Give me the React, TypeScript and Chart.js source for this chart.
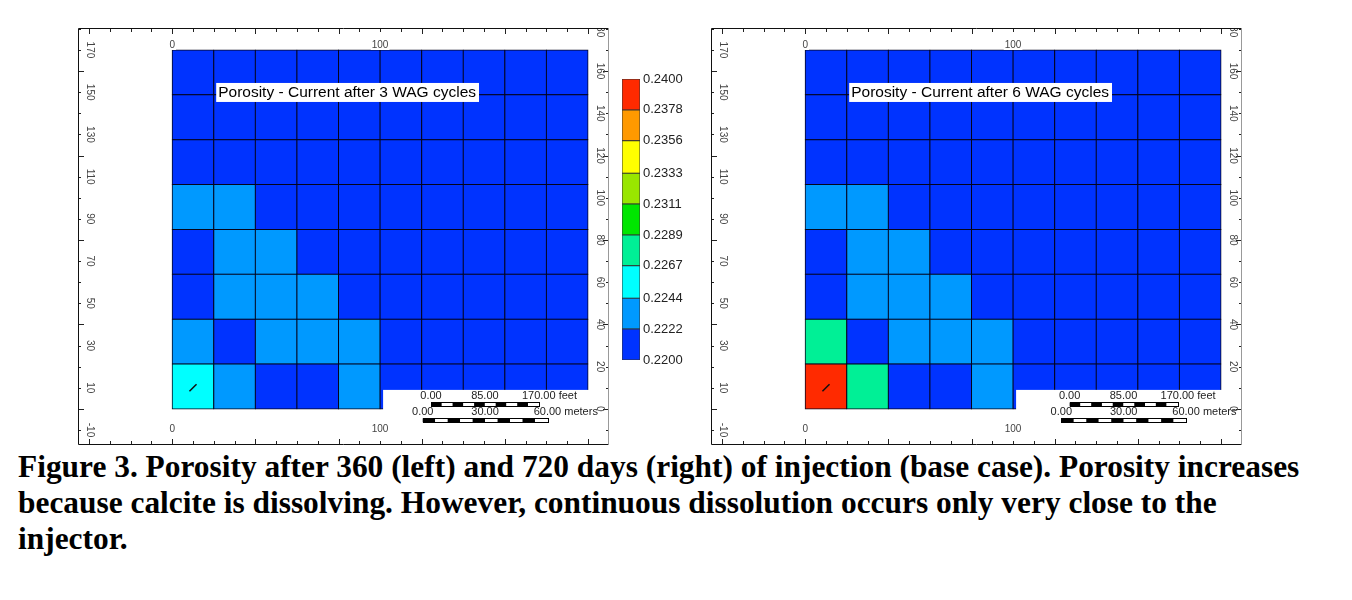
import React, { useEffect, useRef } from "react";
import { Chart, registerables } from "chart.js";

Chart.register(...registerables);

// Grid block centres along X (m) and layer edges along Y (m)
const COLUMN_CENTERS = [10, 30, 50, 70, 90, 110, 130, 150, 170, 190];
const COLUMN_EDGES = [0, 20, 40, 60, 80, 100, 120, 140, 160, 180, 200];
const ROW_EDGES = [0, 21.25, 42.5, 63.75, 85, 106.25, 127.5, 148.75, 170];

// Porosity per grid row, bottom row first: after 3 WAG cycles (360 days)
const POROSITY_3_WAG = [
  [0.2255, 0.2233, 0.2211, 0.2211, 0.2233, 0.2211, 0.2211, 0.2211, 0.2211, 0.2211],
  [0.2233, 0.2211, 0.2233, 0.2233, 0.2233, 0.2211, 0.2211, 0.2211, 0.2211, 0.2211],
  [0.2211, 0.2233, 0.2233, 0.2233, 0.2211, 0.2211, 0.2211, 0.2211, 0.2211, 0.2211],
  [0.2211, 0.2233, 0.2233, 0.2211, 0.2211, 0.2211, 0.2211, 0.2211, 0.2211, 0.2211],
  [0.2233, 0.2233, 0.2211, 0.2211, 0.2211, 0.2211, 0.2211, 0.2211, 0.2211, 0.2211],
  [0.2211, 0.2211, 0.2211, 0.2211, 0.2211, 0.2211, 0.2211, 0.2211, 0.2211, 0.2211],
  [0.2211, 0.2211, 0.2211, 0.2211, 0.2211, 0.2211, 0.2211, 0.2211, 0.2211, 0.2211],
  [0.2211, 0.2211, 0.2211, 0.2211, 0.2211, 0.2211, 0.2211, 0.2211, 0.2211, 0.2211],
];

// Porosity per grid row, bottom row first: after 6 WAG cycles (720 days)
const POROSITY_6_WAG = [
  [0.2390, 0.2278, 0.2211, 0.2211, 0.2233, 0.2211, 0.2211, 0.2211, 0.2211, 0.2211],
  [0.2278, 0.2211, 0.2233, 0.2233, 0.2233, 0.2211, 0.2211, 0.2211, 0.2211, 0.2211],
  [0.2211, 0.2233, 0.2233, 0.2233, 0.2211, 0.2211, 0.2211, 0.2211, 0.2211, 0.2211],
  [0.2211, 0.2233, 0.2233, 0.2211, 0.2211, 0.2211, 0.2211, 0.2211, 0.2211, 0.2211],
  [0.2233, 0.2233, 0.2211, 0.2211, 0.2211, 0.2211, 0.2211, 0.2211, 0.2211, 0.2211],
  [0.2211, 0.2211, 0.2211, 0.2211, 0.2211, 0.2211, 0.2211, 0.2211, 0.2211, 0.2211],
  [0.2211, 0.2211, 0.2211, 0.2211, 0.2211, 0.2211, 0.2211, 0.2211, 0.2211, 0.2211],
  [0.2211, 0.2211, 0.2211, 0.2211, 0.2211, 0.2211, 0.2211, 0.2211, 0.2211, 0.2211],
];

// Injector well location (m)
const INJECTOR = [{ x: 10, y: 10 }];

// Colour scale levels and the fill of each band between them
const LEVELS = [0.22, 0.2222, 0.2244, 0.2267, 0.2289, 0.2311, 0.2333, 0.2356, 0.2378, 0.24];
const BAND_COLORS = [
  "#0033FF", "#0099FF", "#00FFFF", "#00F096", "#00E600",
  "#99E600", "#FFFF00", "#FF9900", "#FF2A00",
];

// Frame tick values (m)
const FRAME_TICKS_X = [-40, -30, -20, -10, 0, 10, 20, 30, 40, 50, 60, 70, 80, 90, 100, 110, 120, 130, 140, 150, 160, 170, 180, 190, 200, 210];
const FRAME_TICKS_Y = [-10, 0, 10, 20, 30, 40, 50, 60, 70, 80, 90, 100, 110, 120, 130, 140, 150, 160, 170, 180];
const X_LABELS = [0, 100];
const LEFT_LABELS = [-10, 10, 30, 50, 70, 90, 110, 130, 150, 170];
const RIGHT_LABELS = [0, 20, 40, 60, 80, 100, 120, 140, 160, 180];

// Scale bar marks
const FEET_MARKS = [0, 85, 170];
const METER_MARKS = [0, 30, 60];
const FEET_TO_M = 0.3048;

const SANS = "'Liberation Sans', Arial, sans-serif";

function colourFor(v: number): string {
  for (let i = 0; i < BAND_COLORS.length; i++) {
    if (v < LEVELS[i + 1]) return BAND_COLORS[i];
  }
  return BAND_COLORS[BAND_COLORS.length - 1];
}

function drawScaleBar(ctx: CanvasRenderingContext2D, x0: number, x1: number, yc: number, marks: number[], unit: string) {
  const segs = 10;
  const h = 4;
  const w = (x1 - x0) / segs;
  for (let i = 0; i < segs; i++) {
    ctx.fillStyle = i % 2 === 0 ? "#000" : "#fff";
    ctx.fillRect(x0 + i * w, yc - h / 2, w, h);
  }
  ctx.strokeStyle = "#000";
  ctx.lineWidth = 1;
  ctx.strokeRect(Math.round(x0) + 0.5, Math.round(yc - h / 2) + 0.5, Math.round(x1 - x0), h);
  ctx.fillStyle = "#222";
  ctx.font = `11px ${SANS}`;
  ctx.textBaseline = "middle";
  marks.forEach((m, i) => {
    const px = x0 + ((x1 - x0) * i) / (marks.length - 1);
    const txt = m.toFixed(2);
    const tw = ctx.measureText(txt).width;
    ctx.textAlign = "left";
    ctx.fillText(i === marks.length - 1 ? `${txt} ${unit}` : txt, px - tw / 2, yc - 8.5);
  });
}

function makeFramePlugin(title: string, barShift: number) {
  return {
    id: "sectionFrame",
    afterDatasetsDraw(chart: any) {
      const { ctx, chartArea: a } = chart;
      const xs = chart.scales.x;
      const ys = chart.scales.y;
      ctx.save();

      // blank corner holding the scale bars
      const bx = xs.getPixelForValue(100) + 3;
      const by = ys.getPixelForValue(9);
      ctx.fillStyle = "#fff";
      ctx.fillRect(bx, by, xs.getPixelForValue(200) + 1 - bx, ys.getPixelForValue(0) + 2 - by);

      const feetStart = 124.5 + barShift;
      const meterStart = 120.5 + barShift;
      drawScaleBar(
        ctx,
        xs.getPixelForValue(feetStart),
        xs.getPixelForValue(feetStart + FEET_MARKS[FEET_MARKS.length - 1] * FEET_TO_M),
        ys.getPixelForValue(2.1),
        FEET_MARKS,
        "feet"
      );
      drawScaleBar(
        ctx,
        xs.getPixelForValue(meterStart),
        xs.getPixelForValue(meterStart + METER_MARKS[METER_MARKS.length - 1]),
        ys.getPixelForValue(-5.4),
        METER_MARKS,
        "meters"
      );

      // title box
      ctx.font = `15.5px ${SANS}`;
      const tx = xs.getPixelForValue(0) + 44;
      const ty = ys.getPixelForValue(170) + 33;
      const tw = ctx.measureText(title).width;
      ctx.fillStyle = "#fff";
      ctx.fillRect(tx, ty, tw + 5, 19);
      ctx.fillStyle = "#000";
      ctx.textAlign = "left";
      ctx.textBaseline = "middle";
      ctx.fillText(title, tx + 2, ty + 10);

      // frame ticks
      ctx.strokeStyle = "#222";
      ctx.lineWidth = 1;
      ctx.beginPath();
      FRAME_TICKS_X.forEach((v) => {
        const px = Math.round(xs.getPixelForValue(v)) + 0.5;
        const len = v % 40 === 0 ? 6 : 4;
        ctx.moveTo(px, a.top);
        ctx.lineTo(px, a.top + len);
        ctx.moveTo(px, a.bottom);
        ctx.lineTo(px, a.bottom - len);
      });
      FRAME_TICKS_Y.forEach((v) => {
        const py = Math.round(ys.getPixelForValue(v)) + 0.5;
        const len = v % 40 === 0 ? 6 : 3;
        ctx.moveTo(a.left, py);
        ctx.lineTo(a.left + len, py);
        ctx.moveTo(a.right, py);
        ctx.lineTo(a.right - len, py);
      });
      ctx.stroke();

      // axis labels
      ctx.font = `10px ${SANS}`;
      ctx.textAlign = "center";
      ctx.textBaseline = "middle";
      X_LABELS.forEach((v) => {
        const px = xs.getPixelForValue(v);
        const w = ctx.measureText(String(v)).width;
        ctx.fillStyle = "#fff";
        ctx.fillRect(px - w / 2 - 1, a.top + 11, w + 2, 11);
        ctx.fillStyle = "#444";
        ctx.fillText(String(v), px, a.top + 17);
        ctx.fillText(String(v), px, a.bottom - 16);
      });
      const rotated = (txt: string, px: number, py: number) => {
        ctx.save();
        ctx.translate(px, py);
        ctx.rotate(Math.PI / 2);
        ctx.fillText(txt, 0, 0);
        ctx.restore();
      };
      ctx.fillStyle = "#444";
      LEFT_LABELS.forEach((v) => rotated(String(v), a.left + 12, ys.getPixelForValue(v)));
      ctx.save();
      ctx.beginPath();
      ctx.rect(a.left, a.top, a.right - a.left, a.bottom - a.top);
      ctx.clip();
      RIGHT_LABELS.forEach((v) => rotated(String(v), a.right - 9, ys.getPixelForValue(v)));
      ctx.restore();

      // outer frame
      ctx.lineWidth = 1;
      ctx.strokeStyle = "#111";
      ctx.beginPath();
      ctx.moveTo(a.left + 0.5, a.bottom - 0.5);
      ctx.lineTo(a.left + 0.5, a.top + 0.5);
      ctx.lineTo(a.right - 0.5, a.top + 0.5);
      ctx.moveTo(a.left + 0.5, a.bottom - 0.5);
      ctx.lineTo(a.right - 0.5, a.bottom - 0.5);
      ctx.stroke();
      ctx.strokeStyle = "#999";
      ctx.beginPath();
      ctx.moveTo(a.right - 0.5, a.top + 0.5);
      ctx.lineTo(a.right - 0.5, a.bottom - 0.5);
      ctx.stroke();

      ctx.restore();
    },
  };
}

function GridPanel(props: { rows: number[][]; title: string; left: number; barShift: number }) {
  const ref = useRef<HTMLCanvasElement | null>(null);
  useEffect(() => {
    if (!ref.current) return;
    const cellSets = props.rows.map((row, r) => ({
      type: "bar" as const,
      data: COLUMN_CENTERS.map((x) => ({ x, y: [ROW_EDGES[r], ROW_EDGES[r + 1]] })),
      backgroundColor: row.map(colourFor),
      borderColor: "#05051c",
      borderWidth: 1,
      borderSkipped: false as const,
      barPercentage: 1,
      categoryPercentage: 1,
      grouped: false,
      inflateAmount: 0.5,
      order: 1,
    }));
    const chart = new Chart(ref.current, {
      type: "bar",
      data: {
        datasets: [
          ...cellSets,
          {
            type: "scatter",
            data: INJECTOR,
            pointStyle: "line",
            rotation: -45,
            radius: 5,
            borderColor: "#111",
            borderWidth: 1.5,
            order: 0,
          } as any,
        ],
      } as any,
      options: {
        animation: false,
        responsive: false,
        events: [],
        layout: { padding: 0, autoPadding: false },
        plugins: {
          legend: { display: false },
          tooltip: { enabled: false },
        },
        scales: {
          x: {
            type: "linear",
            min: -45.3,
            max: 210.1,
            offset: false,
            display: false,
            afterBuildTicks: (s: any) => {
              s.ticks = COLUMN_EDGES.map((value) => ({ value }));
            },
          },
          y: {
            type: "linear",
            min: -17.1,
            max: 180.4,
            display: false,
          },
        },
      } as any,
      plugins: [makeFramePlugin(props.title, props.barShift)],
    });
    return () => chart.destroy();
  }, []);
  return (
    <canvas
      ref={ref}
      width={531}
      height={417}
      style={{ position: "absolute", left: props.left, top: 28, display: "block" }}
    />
  );
}

function ColourBar() {
  const ref = useRef<HTMLCanvasElement | null>(null);
  useEffect(() => {
    if (!ref.current) return;
    const chart = new Chart(ref.current, {
      type: "bar",
      data: {
        labels: ["Porosity"],
        datasets: BAND_COLORS.map((c, i) => ({
          data: [[LEVELS[i], LEVELS[i + 1]]],
          backgroundColor: c,
          borderColor: "#333",
          borderWidth: 1,
          borderSkipped: false,
          barPercentage: 1,
          categoryPercentage: 1,
          grouped: false,
          inflateAmount: 0.5,
        })),
      } as any,
      options: {
        animation: false,
        responsive: false,
        events: [],
        layout: { padding: { left: 2, top: 19, bottom: 20, right: 0 }, autoPadding: false },
        plugins: { legend: { display: false }, tooltip: { enabled: false } },
        scales: {
          x: { display: false },
          y: {
            type: "linear",
            position: "right",
            min: LEVELS[0],
            max: LEVELS[LEVELS.length - 1],
            afterBuildTicks: (s: any) => {
              s.ticks = LEVELS.map((value) => ({ value }));
            },
            afterFit: (s: any) => {
              s.width = 50;
            },
            grid: { display: false, drawTicks: false },
            border: { display: false },
            ticks: {
              autoSkip: false,
              padding: 3,
              color: "#222",
              font: { family: SANS, size: 13 },
              callback: (v: any) => Number(v).toFixed(4),
            },
          },
        },
      } as any,
    });
    return () => chart.destroy();
  }, []);
  return (
    <canvas
      ref={ref}
      width={70}
      height={320}
      style={{ position: "absolute", left: 620, top: 60, display: "block" }}
    />
  );
}

export default function App() {
  return (
    <div
      style={{
        position: "fixed",
        left: 0,
        top: 0,
        width: 1352,
        height: 600,
        background: "#fff",
        overflow: "hidden",
      }}
    >
      <GridPanel rows={POROSITY_3_WAG} title="Porosity - Current after 3 WAG cycles" left={78} barShift={0} />
      <ColourBar />
      <GridPanel rows={POROSITY_6_WAG} title="Porosity - Current after 6 WAG cycles" left={711} barShift={2.7} />
      <div
        style={{
          position: "absolute",
          left: 18,
          top: 449,
          fontFamily: "'Liberation Serif', 'Times New Roman', serif",
          fontWeight: "bold",
          fontSize: 31.4,
          lineHeight: "36px",
          color: "#000",
          whiteSpace: "nowrap",
        }}
      >
        <div>Figure 3. Porosity after 360 (left) and 720 days (right) of injection (base case). Porosity increases</div>
        <div>because calcite is dissolving. However, continuous dissolution occurs only very close to the</div>
        <div>injector.</div>
      </div>
    </div>
  );
}
